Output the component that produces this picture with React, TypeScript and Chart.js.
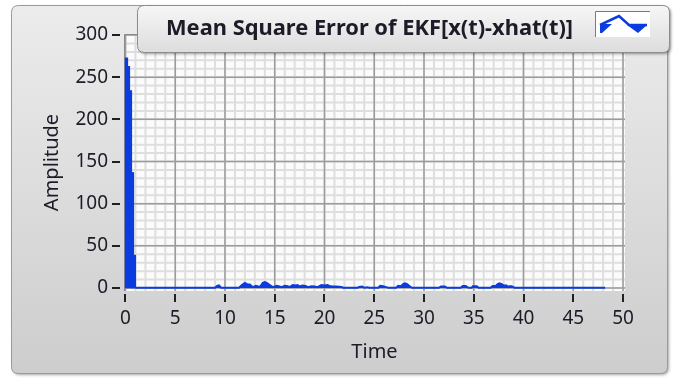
import { useEffect, useRef } from "react";
import { Chart, registerables } from "chart.js";

Chart.register(...registerables);

// ---- data ----
// initial transient: one held sample every 0.2 s (sample centres)
const spikeTime = [0.1, 0.3, 0.5, 0.7, 0.9];
const spikeMse = [273, 263, 234, 137, 39];

const noiseTime = [
  1.0, 9.0, 9.2, 9.4, 9.6, 11.4, 11.7, 12.0, 12.3, 12.5, 12.8, 13.1, 13.5, 13.8, 14.0, 14.2,
  14.5, 14.8, 15.2, 15.4, 15.7, 16.0, 16.3, 16.5, 16.8, 17.1, 17.3, 17.5, 17.8, 18.1, 18.3,
  18.7, 19.0, 19.3, 19.7, 20.0, 20.3, 20.5, 20.8, 21.2, 21.7, 21.9, 23.3, 23.5, 23.8, 24.0,
  24.3, 24.5, 25.4, 25.6, 25.9, 26.2, 26.4, 27.2, 27.4, 27.7, 27.9, 28.1, 28.3, 28.6, 28.8,
  31.5, 31.7, 32.1, 32.3, 33.7, 33.9, 34.2, 34.4, 34.8, 34.9, 35.3, 35.5, 36.7, 36.9, 37.2,
  37.4, 37.6, 37.8, 38.0, 38.3, 38.4, 38.6, 38.8, 39.1, 48.2,
];
const noiseMse = [
  0.3, 0.3, 2.5, 3, 0.3, 0.3, 3.5, 6, 4, 4, 1, 2.5, 1.2, 6, 7, 6,
  3.5, 1, 2.5, 2, 1, 2.5, 2, 1.2, 3.5, 3, 3.5, 1.8, 3, 2.5, 1,
  2, 1.8, 1, 3.5, 3, 3.5, 2.5, 1.8, 1.8, 1.2, 0.3, 0.3, 1.2, 1.8, 0.3,
  1, 0.3, 0.3, 2.5, 2, 1, 0.3, 0.3, 2.5, 2, 4.5, 5.5, 4.5, 1.8, 0.3,
  0.3, 1.8, 1.8, 0.3, 0.3, 2.5, 2.5, 0.5, 0.3, 2, 2, 0.3, 0.3, 2.5, 2.5,
  4.5, 5.5, 4.5, 3, 3, 1.2, 2, 2, 0.3, 0.3,
];

const xTickValues = [0, 5, 10, 15, 20, 25, 30, 35, 40, 45, 50];
const yTickValues = [0, 50, 100, 150, 200, 250, 300];
const xMinorStep = 1;
const yMinorStep = 10;

const legendLabel = "Mean Square Error of EKF[x(t)-xhat(t)]";
const xTitle = "Time";
const yTitle = "Amplitude";

const BLUE = "#0a3ce0";
const TEXT = "#1c1c28";
const FONT = "'Noto Sans', 'DejaVu Sans', sans-serif";

function rr(ctx: CanvasRenderingContext2D, x: number, y: number, w: number, h: number, r: number) {
  ctx.beginPath();
  ctx.moveTo(x + r, y);
  ctx.lineTo(x + w - r, y);
  ctx.quadraticCurveTo(x + w, y, x + w, y + r);
  ctx.lineTo(x + w, y + h - r);
  ctx.quadraticCurveTo(x + w, y + h, x + w - r, y + h);
  ctx.lineTo(x + r, y + h);
  ctx.quadraticCurveTo(x, y + h, x, y + h - r);
  ctx.lineTo(x, y + r);
  ctx.quadraticCurveTo(x, y, x + r, y);
  ctx.closePath();
}

const panelPlugin = {
  id: "panelPlugin",
  beforeDraw(chart: any) {
    const ctx: CanvasRenderingContext2D = chart.ctx;
    const { left, top, right, bottom } = chart.chartArea;
    const xs = chart.scales.x;
    const ys = chart.scales.y;
    ctx.save();
    ctx.fillStyle = "#ffffff";
    ctx.fillRect(0, 0, chart.width, chart.height);
    ctx.save();
    ctx.shadowColor = "rgba(0,0,0,0.35)";
    ctx.shadowBlur = 3;
    ctx.shadowOffsetX = 1.5;
    ctx.shadowOffsetY = 1.5;
    rr(ctx, 11.5, 5.5, 656, 368, 7);
    const g = ctx.createLinearGradient(0, 5, 0, 374);
    g.addColorStop(0, "#ececec");
    g.addColorStop(1, "#cdcdcd");
    ctx.fillStyle = g;
    ctx.fill();
    ctx.restore();
    rr(ctx, 11.5, 5.5, 656, 368, 7);
    ctx.strokeStyle = "#9a9a9a";
    ctx.lineWidth = 1;
    ctx.stroke();

    ctx.fillStyle = "#fbfbfb";
    ctx.fillRect(left, top, right - left, bottom - top);

    ctx.save();
    ctx.beginPath();
    ctx.rect(left, top, right - left, bottom - top);
    ctx.clip();
    ctx.strokeStyle = "#dedede";
    ctx.lineWidth = 2;
    for (let v = xTickValues[0]; v <= xTickValues[xTickValues.length - 1] + 0.001; v += xMinorStep) {
      const px = xs.getPixelForValue(v);
      ctx.beginPath();
      ctx.moveTo(px, top);
      ctx.lineTo(px, bottom);
      ctx.stroke();
    }
    for (let v = yTickValues[0]; v <= yTickValues[yTickValues.length - 1] + 0.001; v += yMinorStep) {
      const py = ys.getPixelForValue(v);
      ctx.beginPath();
      ctx.moveTo(left, py);
      ctx.lineTo(right, py);
      ctx.stroke();
    }
    ctx.strokeStyle = "#9c9c9c";
    ctx.lineWidth = 1.5;
    xTickValues.forEach((v) => {
      const px = xs.getPixelForValue(v);
      ctx.beginPath();
      ctx.moveTo(px, top);
      ctx.lineTo(px, bottom);
      ctx.stroke();
    });
    yTickValues.forEach((v) => {
      const py = ys.getPixelForValue(v);
      ctx.beginPath();
      ctx.moveTo(left, py);
      ctx.lineTo(right, py);
      ctx.stroke();
    });
    ctx.restore();

    ctx.strokeStyle = "#8a8a8a";
    ctx.lineWidth = 1;
    ctx.beginPath();
    ctx.moveTo(left + 0.5, bottom);
    ctx.lineTo(left + 0.5, top + 0.5);
    ctx.lineTo(right, top + 0.5);
    ctx.stroke();
    ctx.restore();
  },
  afterDraw(chart: any) {
    const ctx: CanvasRenderingContext2D = chart.ctx;
    const { left, bottom } = chart.chartArea;
    const xs = chart.scales.x;
    const ys = chart.scales.y;
    ctx.save();
    ctx.strokeStyle = "#202020";
    ctx.lineWidth = 2;
    yTickValues.forEach((v) => {
      const py = Math.round(ys.getPixelForValue(v));
      ctx.beginPath();
      ctx.moveTo(left - 12, py);
      ctx.lineTo(left - 4, py);
      ctx.stroke();
    });
    xTickValues.forEach((v) => {
      const px = Math.round(xs.getPixelForValue(v));
      ctx.beginPath();
      ctx.moveTo(px, bottom + 3);
      ctx.lineTo(px, bottom + 11);
      ctx.stroke();
    });

    // legend box
    ctx.save();
    ctx.shadowColor = "rgba(0,0,0,0.4)";
    ctx.shadowBlur = 3;
    ctx.shadowOffsetX = 1.5;
    ctx.shadowOffsetY = 1.5;
    rr(ctx, 137.5, 5.5, 532, 47, 7);
    const lg = ctx.createLinearGradient(0, 5, 0, 53);
    lg.addColorStop(0, "#f7f7f7");
    lg.addColorStop(1, "#dcdcdc");
    ctx.fillStyle = lg;
    ctx.fill();
    ctx.restore();
    rr(ctx, 137.5, 5.5, 532, 47, 7);
    ctx.strokeStyle = "#8c8c8c";
    ctx.lineWidth = 1;
    ctx.stroke();

    let fs = 18;
    ctx.font = `bold ${fs}px ${FONT}`;
    const w = ctx.measureText(legendLabel).width;
    fs = (fs * 407) / w;
    ctx.font = `bold ${fs.toFixed(2)}px ${FONT}`;
    ctx.fillStyle = TEXT;
    ctx.textBaseline = "middle";
    ctx.textAlign = "left";
    ctx.fillText(legendLabel, 166, 29);

    // legend icon
    ctx.fillStyle = "#ffffff";
    ctx.fillRect(595, 11, 55, 26);
    ctx.strokeStyle = "#7a7a7a";
    ctx.beginPath();
    ctx.moveTo(595.5, 37);
    ctx.lineTo(595.5, 11.5);
    ctx.lineTo(650, 11.5);
    ctx.stroke();
    ctx.fillStyle = BLUE;
    ctx.beginPath();
    ctx.moveTo(600, 24);
    ctx.lineTo(612, 24);
    ctx.lineTo(602, 33);
    ctx.lineTo(600, 33);
    ctx.closePath();
    ctx.fill();
    ctx.beginPath();
    ctx.moveTo(627, 25);
    ctx.lineTo(647, 25);
    ctx.lineTo(638, 33);
    ctx.closePath();
    ctx.fill();
    ctx.strokeStyle = BLUE;
    ctx.lineWidth = 2.5;
    ctx.beginPath();
    ctx.moveTo(600, 25);
    ctx.lineTo(619, 16);
    ctx.lineTo(629, 25);
    ctx.lineTo(647, 25);
    ctx.stroke();
    ctx.restore();
  },
};

export default function App() {
  const ref = useRef<HTMLCanvasElement | null>(null);
  useEffect(() => {
    document.body.style.margin = "0";
    const canvas = ref.current;
    if (!canvas) return;
    const chart = new Chart(canvas, {
      type: "line",
      data: {
        datasets: [
          {
            type: "bar",
            label: "transient",
            data: spikeTime.map((t, i) => ({ x: t, y: spikeMse[i] })),
            backgroundColor: BLUE,
            borderColor: BLUE,
            borderWidth: 0,
            barThickness: 2.6,
            grouped: false,
          } as any,
          {
            type: "line",
            label: legendLabel,
            data: noiseTime.map((t, i) => ({ x: t, y: noiseMse[i] })),
            borderColor: BLUE,
            backgroundColor: BLUE,
            borderWidth: 2,
            tension: 0,
            fill: "origin",
            pointRadius: 0,
          },
        ],
      },
      options: {
        animation: false,
        responsive: false,
        events: [],
        layout: { padding: { left: 0, top: 34, right: 53, bottom: 0 } },
        plugins: { legend: { display: false }, tooltip: { enabled: false } },
        scales: {
          x: {
            type: "linear",
            offset: false,
            min: -0.15,
            max: 50.2,
            afterBuildTicks: (s: any) => {
              s.ticks = xTickValues.map((v) => ({ value: v }));
            },
            afterFit: (s: any) => {
              s.height = 90;
            },
            grid: { display: false, drawTicks: false, offset: false },
            border: { display: false },
            ticks: {
              autoSkip: false,
              maxRotation: 0,
              padding: 16,
              color: TEXT,
              font: { family: FONT, size: 19 },
              callback: (v: any) => String(v),
            },
            title: {
              display: true,
              text: xTitle,
              color: TEXT,
              font: { family: FONT, size: 20 },
              padding: { top: 0, bottom: 17 },
            },
          },
          y: {
            type: "linear",
            min: -3.56,
            max: 301.2,
            afterBuildTicks: (s: any) => {
              s.ticks = yTickValues.map((v) => ({ value: v }));
            },
            afterFit: (s: any) => {
              s.width = 124;
            },
            grid: { display: false, drawTicks: false },
            border: { display: false },
            ticks: {
              autoSkip: false,
              padding: 16,
              color: TEXT,
              font: { family: FONT, size: 19 },
              callback: (v: any) => String(v),
            },
            title: {
              display: true,
              text: yTitle,
              color: TEXT,
              font: { family: FONT, size: 20 },
              padding: 40,
            },
          },
        },
      },
      plugins: [panelPlugin],
    });
    return () => chart.destroy();
  }, []);
  return <canvas ref={ref} width={678} height={381} style={{ display: "block" }} />;
}
